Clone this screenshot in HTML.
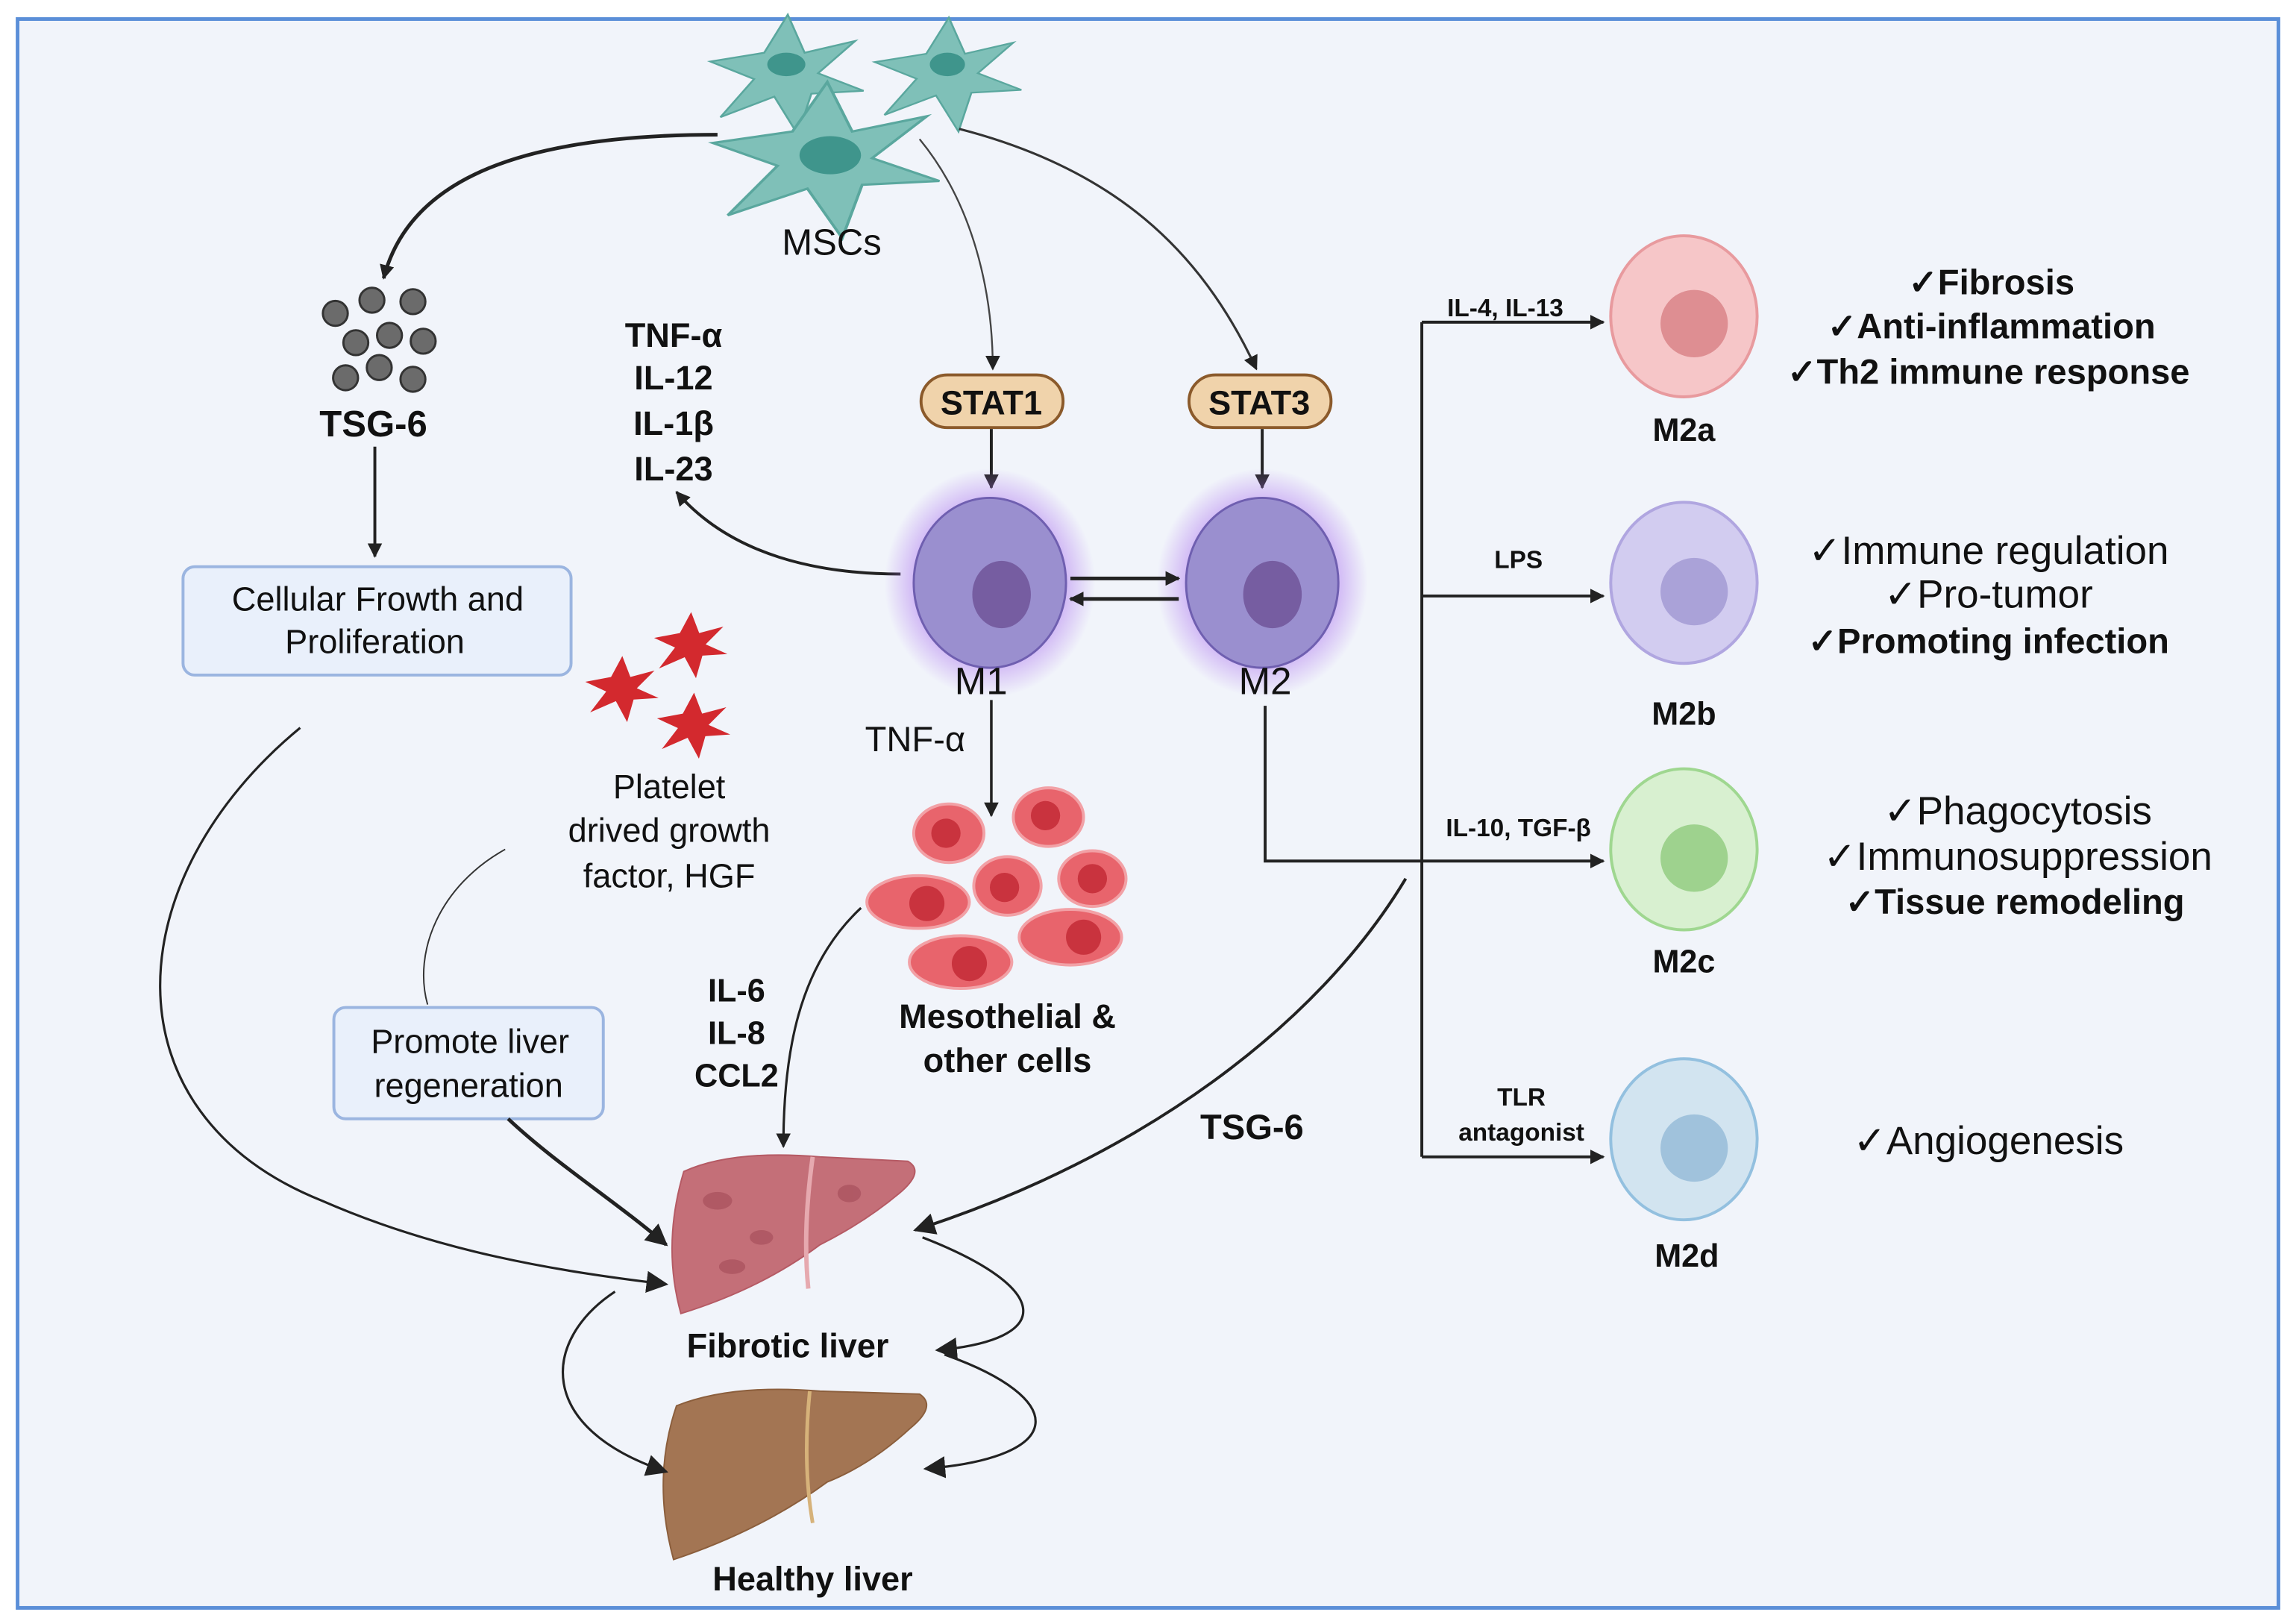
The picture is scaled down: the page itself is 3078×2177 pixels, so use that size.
<!DOCTYPE html>
<html><head><meta charset="utf-8"><style>
html,body{margin:0;padding:0;background:#fff;}
svg{display:block;}
text{font-family:"Liberation Sans",sans-serif;fill:#111;}
.b{font-weight:bold;}
</style></head><body>
<svg width="3078" height="2177" viewBox="0 0 1568 1109" preserveAspectRatio="none" xmlns="http://www.w3.org/2000/svg">
<defs>
<marker id="a" viewBox="0 0 10 10" refX="9" refY="5" markerWidth="10" markerHeight="10" markerUnits="userSpaceOnUse" orient="auto"><path d="M0,0 L10,5 L0,10 Z" fill="#222"/></marker>
<marker id="A" viewBox="0 0 10 10" refX="9" refY="5" markerWidth="15" markerHeight="15" markerUnits="userSpaceOnUse" orient="auto"><path d="M0,0 L10,5 L0,10 Z" fill="#222"/></marker>
<radialGradient id="glow"><stop offset="0.6" stop-color="#b07cf0" stop-opacity="0.7"/><stop offset="1" stop-color="#b07cf0" stop-opacity="0"/></radialGradient>
<g id="star"><path d="M0,-40 L10,-14 L40,-22 L18,0 L45,12 L14,14 L6,42 L-8,16 L-40,30 L-20,4 L-46,-8 L-14,-14 Z"/></g>
</defs>
<rect x="0" y="0" width="1568" height="1109" fill="#fff"/>
<rect x="12" y="13" width="1544" height="1085" fill="#f1f4fa" stroke="#5b8fd8" stroke-width="2.5"/>

<g fill="#7fc0b8" stroke="#5aa79e" stroke-width="1.2">
<use href="#star" transform="translate(538,50) scale(1.15,1.0)"/>
<use href="#star" transform="translate(648,50) scale(1.1,0.95)"/>
<use href="#star" transform="translate(565,108) scale(1.7,1.3)"/>
</g>
<g fill="#3f958c"><ellipse cx="537" cy="44" rx="13" ry="8"/><ellipse cx="647" cy="44" rx="12" ry="8"/><ellipse cx="567" cy="106" rx="21" ry="13"/></g>
<text x="568" y="174" font-size="25" text-anchor="middle">MSCs</text>

<path d="M490,92 C360,92 280,120 262,190" fill="none" stroke="#222" stroke-width="2.5" marker-end="url(#a)"/>
<path d="M628,95 C665,140 678,200 678,252" fill="none" stroke="#444" stroke-width="1.2" marker-end="url(#a)"/>
<path d="M655,88 C760,115 820,170 858,252" fill="none" stroke="#333" stroke-width="1.6" marker-end="url(#a)"/>

<g fill="#6b6b6b" stroke="#333" stroke-width="1.5">
<circle cx="229" cy="214" r="8.5"/><circle cx="254" cy="205" r="8.5"/><circle cx="282" cy="206" r="8.5"/>
<circle cx="243" cy="234" r="8.5"/><circle cx="266" cy="229" r="8.5"/><circle cx="289" cy="233" r="8.5"/>
<circle cx="236" cy="258" r="8.5"/><circle cx="259" cy="251" r="8.5"/><circle cx="282" cy="259" r="8.5"/>
</g>
<text x="255" y="298" font-size="25" class="b" text-anchor="middle">TSG-6</text>
<line x1="256" y1="305" x2="256" y2="380" stroke="#222" stroke-width="2" marker-end="url(#a)"/>
<rect x="125" y="387" width="265" height="74" rx="8" fill="#e9f0fb" stroke="#9bb5e0" stroke-width="2"/>
<text x="258" y="417" font-size="23" text-anchor="middle">Cellular Frowth and</text>
<text x="256" y="446" font-size="23" text-anchor="middle">Proliferation</text>

<g font-size="23" class="b" text-anchor="middle">
<text x="460" y="237" class="b">TNF-α</text>
<text x="460" y="266" class="b">IL-12</text>
<text x="460" y="297" class="b">IL-1β</text>
<text x="460" y="328" class="b">IL-23</text>
</g>
<path d="M615,392 C560,392 500,380 462,336" fill="none" stroke="#222" stroke-width="2" marker-end="url(#a)"/>

<rect x="629" y="256" width="97" height="36" rx="18" fill="#f0d3ab" stroke="#8b5a2b" stroke-width="2"/>
<text x="677" y="283" font-size="23" class="b" text-anchor="middle">STAT1</text>
<rect x="812" y="256" width="97" height="36" rx="18" fill="#f0d3ab" stroke="#8b5a2b" stroke-width="2"/>
<text x="860" y="283" font-size="23" class="b" text-anchor="middle">STAT3</text>
<line x1="677" y1="293" x2="677" y2="333" stroke="#222" stroke-width="2" marker-end="url(#a)"/>
<line x1="862" y1="293" x2="862" y2="333" stroke="#222" stroke-width="2" marker-end="url(#a)"/>

<ellipse cx="676" cy="398" rx="72" ry="78" fill="url(#glow)"/>
<ellipse cx="676" cy="398" rx="52" ry="58" fill="#9a8fcf" stroke="#6f5fb0" stroke-width="1.5"/>
<ellipse cx="684" cy="406" rx="20" ry="23" fill="#765da1"/>
<ellipse cx="862" cy="398" rx="72" ry="78" fill="url(#glow)"/>
<ellipse cx="862" cy="398" rx="52" ry="58" fill="#9a8fcf" stroke="#6f5fb0" stroke-width="1.5"/>
<ellipse cx="869" cy="406" rx="20" ry="23" fill="#765da1"/>
<line x1="731" y1="395" x2="805" y2="395" stroke="#222" stroke-width="2.5" marker-end="url(#a)"/>
<line x1="805" y1="409" x2="731" y2="409" stroke="#222" stroke-width="2.5" marker-end="url(#a)"/>
<text x="670" y="474" font-size="26" text-anchor="middle">M1</text>
<text x="864" y="474" font-size="26" text-anchor="middle">M2</text>

<line x1="677" y1="478" x2="677" y2="557" stroke="#222" stroke-width="1.8" marker-end="url(#a)"/>
<text x="625" y="513" font-size="24" text-anchor="middle">TNF-α</text>

<g fill="#e8646c" stroke="#f2a1a6" stroke-width="2">
<ellipse cx="648" cy="569" rx="24" ry="20"/><ellipse cx="716" cy="558" rx="24" ry="20"/>
<ellipse cx="688" cy="605" rx="23" ry="20"/><ellipse cx="746" cy="600" rx="23" ry="19"/>
<ellipse cx="627" cy="616" rx="35" ry="18"/><ellipse cx="731" cy="640" rx="35" ry="19"/>
<ellipse cx="656" cy="657" rx="35" ry="18"/>
</g>
<g fill="#c9333e">
<circle cx="646" cy="569" r="10"/><circle cx="714" cy="557" r="10"/><circle cx="686" cy="606" r="10"/>
<circle cx="746" cy="600" r="10"/><circle cx="633" cy="617" r="12"/><circle cx="740" cy="640" r="12"/><circle cx="662" cy="658" r="12"/>
</g>
<text x="688" y="702" font-size="23" class="b" text-anchor="middle">Mesothelial &amp;</text>
<text x="688" y="732" font-size="23" class="b" text-anchor="middle">other cells</text>

<g fill="#d3292e">
<use href="#star" transform="translate(472,440) scale(0.55)"/>
<use href="#star" transform="translate(425,470) scale(0.55)"/>
<use href="#star" transform="translate(474,495) scale(0.55)"/>
</g>
<g font-size="23" text-anchor="middle">
<text x="457" y="545">Platelet</text>
<text x="457" y="575">drived growth</text>
<text x="457" y="606">factor, HGF</text>
</g>

<rect x="228" y="688" width="184" height="76" rx="8" fill="#e9f0fb" stroke="#9bb5e0" stroke-width="2"/>
<text x="321" y="719" font-size="23" text-anchor="middle">Promote liver</text>
<text x="320" y="749" font-size="23" text-anchor="middle">regeneration</text>

<g font-size="22" class="b" text-anchor="middle">
<text x="503" y="684" class="b">IL-6</text><text x="503" y="713" class="b">IL-8</text><text x="503" y="742" class="b">CCL2</text>
</g>

<path d="M205,497 C80,600 70,760 220,820 C300,855 380,868 455,877" fill="none" stroke="#222" stroke-width="1.6" marker-end="url(#A)"/>
<path d="M345,580 C300,605 282,650 292,686" fill="none" stroke="#333" stroke-width="1"/>
<path d="M347,764 C380,795 420,820 455,850" fill="none" stroke="#222" stroke-width="2.5" marker-end="url(#A)"/>
<path d="M588,620 C545,660 535,720 535,783" fill="none" stroke="#222" stroke-width="1.6" marker-end="url(#a)"/>
<path d="M960,600 C900,700 780,790 625,840" fill="none" stroke="#222" stroke-width="2" marker-end="url(#A)"/>
<text x="855" y="778" font-size="24" class="b" text-anchor="middle">TSG-6</text>

<path d="M467,800 Q500,785 560,790 L620,793 Q632,800 614,815 Q590,835 560,850 Q520,880 465,897 Q452,850 467,800 Z" fill="#c46f78" stroke="#b55a64" stroke-width="1"/>
<path d="M555,790 Q548,840 552,880" fill="none" stroke="#e6a9af" stroke-width="3"/>
<g fill="#a8505c" opacity="0.7"><ellipse cx="490" cy="820" rx="10" ry="6"/><ellipse cx="520" cy="845" rx="8" ry="5"/><ellipse cx="500" cy="865" rx="9" ry="5"/><ellipse cx="580" cy="815" rx="8" ry="6"/></g>
<text x="538" y="927" font-size="23" class="b" text-anchor="middle">Fibrotic liver</text>
<path d="M462,960 Q500,945 560,950 L628,952 Q640,960 622,975 Q595,1000 565,1012 Q520,1045 460,1065 Q445,1010 462,960 Z" fill="#a37553" stroke="#8b5e3c" stroke-width="1"/>
<path d="M553,950 Q548,1000 555,1040" fill="none" stroke="#d6b27a" stroke-width="2.5"/>
<text x="555" y="1086" font-size="23" class="b" text-anchor="middle">Healthy liver</text>

<path d="M630,845 C720,880 720,915 640,922" fill="none" stroke="#222" stroke-width="1.6" marker-end="url(#A)"/>
<path d="M645,925 C730,955 730,995 632,1003" fill="none" stroke="#222" stroke-width="1.6" marker-end="url(#A)"/>
<path d="M420,882 C370,915 365,975 455,1005" fill="none" stroke="#222" stroke-width="1.6" marker-end="url(#A)"/>

<line x1="971" y1="220" x2="971" y2="790" stroke="#222" stroke-width="2"/>
<line x1="971" y1="220" x2="1095" y2="220" stroke="#222" stroke-width="2" marker-end="url(#a)"/>
<line x1="971" y1="407" x2="1095" y2="407" stroke="#222" stroke-width="2" marker-end="url(#a)"/>
<line x1="971" y1="790" x2="1095" y2="790" stroke="#222" stroke-width="2" marker-end="url(#a)"/>
<path d="M864,482 L864,588 L1095,588" fill="none" stroke="#222" stroke-width="2" marker-end="url(#a)"/>
<g font-size="17" class="b" text-anchor="middle">
<text x="1028" y="216" class="b">IL-4, IL-13</text>
<text x="1037" y="388" class="b">LPS</text>
<text x="1037" y="571" class="b">IL-10, TGF-β</text>
<text x="1039" y="755" class="b">TLR</text>
<text x="1039" y="779" class="b">antagonist</text>
</g>

<ellipse cx="1150" cy="216" rx="50" ry="55" fill="#f6c6c8" stroke="#e89a9e" stroke-width="2"/>
<circle cx="1157" cy="221" r="23" fill="#de8e92"/>
<ellipse cx="1150" cy="398" rx="50" ry="55" fill="#d2ccf0" stroke="#b0a6e0" stroke-width="2"/>
<circle cx="1157" cy="404" r="23" fill="#aaa2d8"/>
<ellipse cx="1150" cy="580" rx="50" ry="55" fill="#d8f0d0" stroke="#9fd790" stroke-width="2"/>
<circle cx="1157" cy="586" r="23" fill="#9ed28e"/>
<ellipse cx="1150" cy="778" rx="50" ry="55" fill="#d2e4f0" stroke="#93c0df" stroke-width="2"/>
<circle cx="1157" cy="784" r="23" fill="#a0c2dc"/>
<g font-size="22" class="b" text-anchor="middle">
<text x="1150" y="301" class="b">M2a</text><text x="1150" y="495" class="b">M2b</text>
<text x="1150" y="664" class="b">M2c</text><text x="1152" y="865" class="b">M2d</text>
</g>
<g font-size="24" class="b" text-anchor="middle">
<text x="1360" y="201" class="b">✓Fibrosis</text>
<text x="1360" y="231" class="b">✓Anti-inflammation</text>
<text x="1358" y="262" class="b">✓Th2 immune response</text>
</g>
<g font-size="27" text-anchor="middle">
<text x="1358" y="385">✓Immune regulation</text>
<text x="1358" y="415">✓Pro-tumor</text>
<text x="1358" y="446" font-size="24" class="b">✓Promoting infection</text>
<text x="1378" y="563">✓Phagocytosis</text>
<text x="1378" y="594">✓Immunosuppression</text>
<text x="1376" y="624" font-size="24" class="b">✓Tissue remodeling</text>
<text x="1358" y="788">✓Angiogenesis</text>
</g>
</svg>
</body></html>
